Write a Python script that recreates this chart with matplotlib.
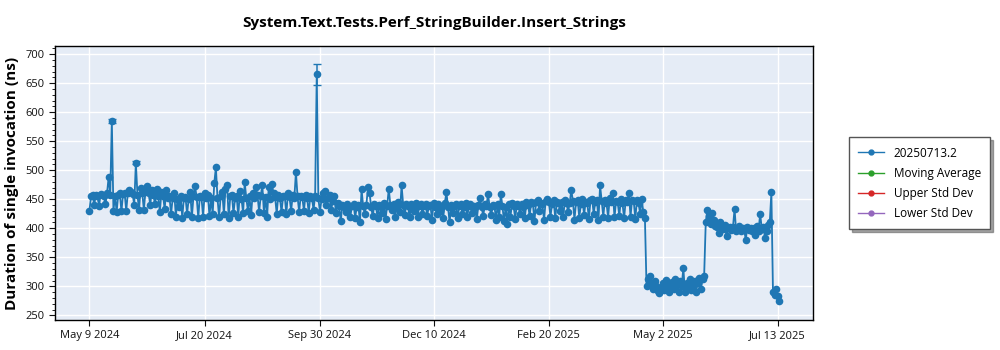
import numpy as np
import pandas as pd
import matplotlib
matplotlib.use("Agg")
import matplotlib.pyplot as plt
import matplotlib.dates as mdates
from matplotlib.lines import Line2D
from matplotlib.ticker import MultipleLocator

plt.rcParams['font.family'] = ['Open Sans', 'DejaVu Sans']

title = "System.Text.Tests.Perf_StringBuilder.Insert_Strings"
ylabel = "Duration of single invocation (ns)"
series_name = "20250713.2"
legend_labels = [series_name, "Moving Average", "Upper Std Dev", "Lower Std Dev"]
legend_colors = ["#1f77b4", "#2ca02c", "#d62728", "#9467bd"]

start_date = "2024-05-09"

# May 2024 - Sep 2024 (around 455 ns)
vals_summer_2024 = [
    430, 455, 457, 440, 458, 456, 438, 459, 457, 455,
    441, 460, 488, 458, 585, 430, 456, 428, 458, 460,
    429, 459, 460, 430, 461, 466, 462, 459, 440, 513,
    458, 431, 470, 461, 432, 463, 472, 460, 440, 466,
    457, 441, 468, 455, 428, 463, 456, 433, 466, 452,
    455, 424, 452, 461, 420, 450, 437, 456, 418, 452,
    454, 425, 450, 462, 419, 455, 472, 453, 418, 456,
    453, 420, 461, 452, 457, 421, 452, 425, 478, 505,
    452, 419, 455, 463, 424, 468, 474, 418, 455, 457,
    426, 452, 455, 420, 465, 451, 426, 479, 452, 430,
    455, 423, 461, 452, 471, 457, 428, 455, 475, 427,
    454, 420, 471, 451, 477, 460, 453, 425, 458, 452,
    428, 455, 456, 424, 460, 453, 430, 457, 452, 497,
    455, 428, 456, 453, 430, 458, 452, 427, 455, 452,
    432, 456,
]

# Sep 2024 - Apr 2025 (around 440 ns)
vals_winter = [
    665, 452, 428, 450, 461, 465, 440, 452,
    458, 431, 447, 455, 426, 443, 438, 412, 440, 437,
    428, 441, 436, 420, 439, 442, 418, 437, 440, 410,
    467, 438, 425, 440, 471, 461, 436, 421, 442, 438,
    418, 440, 437, 426, 443, 416, 439, 468, 440, 432,
    441, 419, 437, 445, 428, 474, 440, 423, 442, 438,
    419, 441, 437, 430, 444, 420, 438, 441, 425, 439,
    442, 421, 438, 440, 415, 443, 437, 424, 441, 430,
    438, 418, 443, 462, 437, 410, 440, 426, 438, 441,
    417, 439, 442, 424, 436, 444, 419, 438, 441, 426,
    439, 437, 416, 440, 452, 436, 421, 441, 438, 459,
    437, 422, 440, 439, 414, 441, 420, 459, 438, 412,
    437, 407, 441, 420, 443, 438, 416, 442, 439, 425,
    441, 436, 418, 445, 440, 421, 446, 443, 412, 445,
    448, 430, 444, 441, 414, 447, 450, 445, 420, 442,
    448, 417, 446, 443, 430, 445, 419, 449, 444, 428,
    443, 466, 447, 415, 446, 449, 418, 442, 450, 423,
    446, 444, 416, 448, 451, 425, 445, 449, 414, 474,
    447, 420, 449, 444, 418, 452, 446, 460, 419, 447,
    445, 421, 450, 443, 417, 448, 446, 461, 420, 449,
    447, 416, 448, 444, 425, 450, 428, 418,
]

# Apr 2025 - May 2025 (around 300 ns)
vals_spring_2025 = [
    300, 312, 318, 305, 296, 309, 301, 292, 288, 298,
    305, 294, 311, 303, 290, 299, 308, 296, 313, 304,
    291, 310, 300, 332, 290, 306, 297, 312, 293, 302,
    309, 291, 305, 315, 296, 312, 318,
]

# May 2025 - Jul 2025 (around 400 ns)
vals_summer_2025 = [
    410, 432, 421, 407, 426, 415, 404, 402, 392, 410,
    401, 398, 405, 386, 400, 403, 397, 402, 433, 395,
    399, 404, 396, 401, 398, 380, 403, 397, 400, 395,
    401, 389, 404, 396, 425, 399, 402, 384, 395, 405,
    410, 462,
]

# Jul 2025 (around 285 ns)
vals_july_2025 = [290, 285, 295, 283, 275]

# error bars (index into full series, half-width in ns)
err_index = [14, 29, 142]
err_size = [3, 3, 18]

values = np.array(vals_summer_2024 + vals_winter + vals_spring_2025
                  + vals_summer_2025 + vals_july_2025, dtype=float)
dates = pd.date_range(start_date, periods=len(values), freq="D")

fig = plt.figure(figsize=(10, 3.5), dpi=100)
ax = fig.add_axes([0.055, 0.0857, 0.758, 0.783])
ax.set_facecolor("#e5ecf6")

color = "#1f77b4"
ax.plot(dates, values, color=color, lw=1.3, marker='o', markersize=5.5,
        markeredgewidth=0, zorder=3)
ax.errorbar(dates[err_index], values[err_index], yerr=err_size, fmt='none',
            ecolor=color, elinewidth=1.1, capsize=3, zorder=3)

ax.set_xlim(pd.Timestamp("2024-04-17 12:00"), pd.Timestamp("2025-08-04"))
ax.set_ylim(242, 714)
ax.yaxis.set_major_locator(MultipleLocator(50))
ax.yaxis.set_minor_locator(MultipleLocator(10))

xticks = pd.to_datetime(["2024-05-09", "2024-07-20", "2024-09-30", "2024-12-10",
                         "2025-02-20", "2025-05-02", "2025-07-13"])
ax.set_xticks(xticks)
ax.xaxis.set_major_formatter(mdates.DateFormatter("%b %-d %Y"))

ax.grid(True, color="white", lw=1.0, zorder=0)
ax.set_axisbelow(True)
for s in ax.spines.values():
    s.set_color("black")
    s.set_linewidth(1.0)
ax.tick_params(axis='both', labelsize=8, colors="#111111", length=4)
ax.tick_params(axis='y', which='minor', length=2)

ax.set_title(title, fontsize=11, fontweight='bold', pad=14)
ax.set_ylabel(ylabel, fontsize=11, fontweight='bold', labelpad=5)

handles = [Line2D([0], [0], color=c, lw=1.0, marker='o', markersize=3.5)
           for c in legend_colors]
leg = fig.legend(handles, legend_labels, loc='upper left',
                 bbox_to_anchor=(0.843, 0.625), fontsize=8.5, frameon=True,
                 fancybox=False, shadow=True, framealpha=1, edgecolor="#555555",
                 handlelength=2.2, borderpad=0.8, labelspacing=0.6)

fig.savefig("out.png", dpi=100, facecolor="white")
